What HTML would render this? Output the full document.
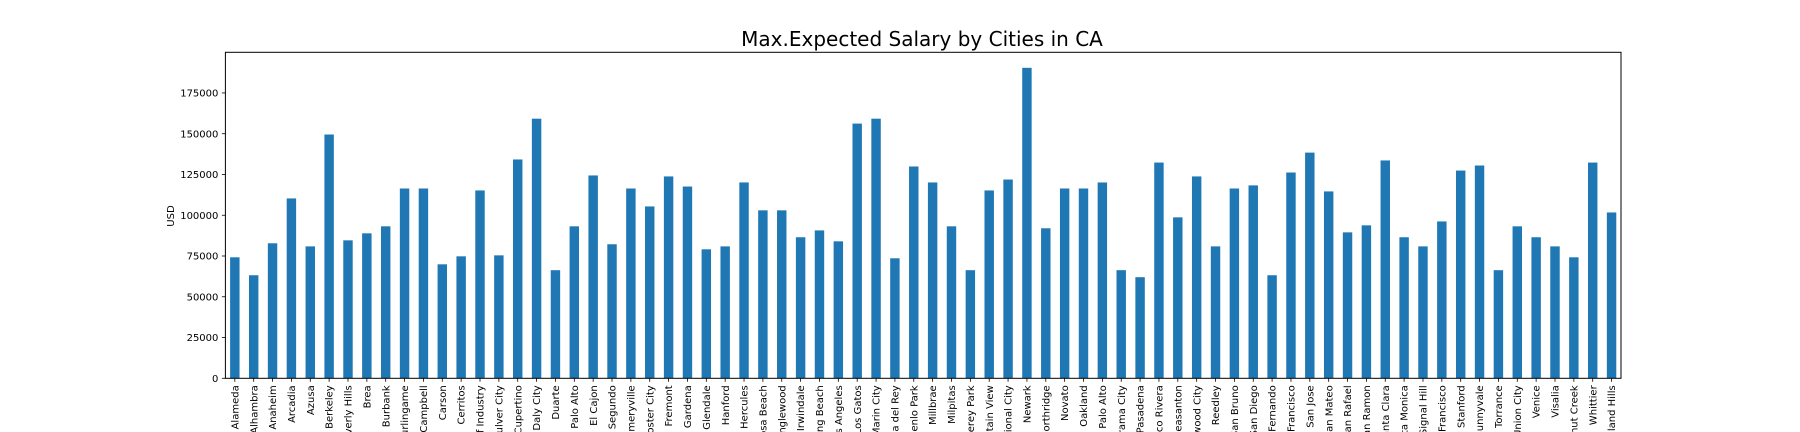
<!DOCTYPE html>
<html><head><meta charset="utf-8"><style>
html,body{margin:0;padding:0;background:#fff;width:1800px;height:432px;overflow:hidden;}
svg{display:block;font-family:"DejaVu Sans","Liberation Sans",sans-serif;overflow:hidden;}
</style></head><body>
<svg id="chart" width="1800" height="432" viewBox="0 0 1800 432">
<defs><clipPath id="frameclip"><rect x="0" y="0" width="1800" height="432"/></clipPath></defs>
<rect width="1800" height="432" fill="#fff"/>
<text x="922" y="46" font-size="20" text-anchor="middle" fill="#000">Max.Expected Salary by Cities in CA</text>
<text transform="translate(174,216) rotate(-90)" font-size="10" text-anchor="middle" fill="#000">USD</text>
<g id="bars"></g>
<g id="yaxis"></g>
<g id="xaxis" clip-path="url(#frameclip)"></g>
<rect x="225.4" y="52.3" width="1395.6" height="326" fill="none" stroke="#000" stroke-width="1"/>
</svg>
<script>
const categories = ["Alameda","Alhambra","Anaheim","Arcadia","Azusa","Berkeley","Beverly Hills","Brea","Burbank","Burlingame","Campbell","Carson","Cerritos","City of Industry","Culver City","Cupertino","Daly City","Duarte","East Palo Alto","El Cajon","El Segundo","Emeryville","Foster City","Fremont","Gardena","Glendale","Hanford","Hercules","Hermosa Beach","Inglewood","Irwindale","Long Beach","Los Angeles","Los Gatos","Marin City","Marina del Rey","Menlo Park","Millbrae","Milpitas","Monterey Park","Mountain View","National City","Newark","Northridge","Novato","Oakland","Palo Alto","Panorama City","Pasadena","Pico Rivera","Pleasanton","Redwood City","Reedley","San Bruno","San Diego","San Fernando","San Francisco","San Jose","San Mateo","San Rafael","San Ramon","Santa Clara","Santa Monica","Signal Hill","South San Francisco","Stanford","Sunnyvale","Torrance","Union City","Venice","Visalia","Walnut Creek","Whittier","Woodland Hills"];
const salaries = [74200,63200,82800,110300,80900,149500,84600,88900,93200,116400,116400,69900,74800,115200,75400,134200,159200,66300,93200,124400,82200,116400,105400,123800,117600,79100,80900,120100,103000,103000,86500,90700,84000,156200,159200,73600,129900,120100,93200,66300,115200,121900,190400,92000,116400,116400,120100,66300,62000,132300,98700,123800,80900,116400,118300,63200,126200,138400,114600,89500,93800,133600,86500,80900,96200,127400,130500,66300,93200,86500,80900,74200,132300,101700];
const yTicks = [0,25000,50000,75000,100000,125000,150000,175000];

const NS = "http://www.w3.org/2000/svg";
const L = 225.4, R = 1621, T = 52.3, B = 378.3;
const yMax = Math.max(...salaries) * 1.05;
function yScale(v){ return B - v / yMax * (B - T); }
const step = (R - L) / categories.length;
function xCenter(i){ return L + step * (i + 0.5); }
function mk(tag, attrs){ const e = document.createElementNS(NS, tag); for (const k in attrs) e.setAttribute(k, attrs[k]); return e; }

const bars = document.getElementById('bars');
salaries.forEach((v, i) => {
  const w = step * 0.5;
  const r = mk('rect', {x: xCenter(i) - w/2, y: yScale(v), width: w, height: B - yScale(v), fill: '#1f77b4'});
  
  
  bars.appendChild(r);
});

const ya = document.getElementById('yaxis');
yTicks.forEach(t => {
  const y = yScale(t);
  const ln = mk('line', {x1: L - 3.5, x2: L, y1: y, y2: y, stroke: '#000', 'stroke-width': 0.8});
  
  
  ya.appendChild(ln);
  const tx = mk('text', {x: L - 7, y: y + 3.6, 'font-size': 10, 'text-anchor': 'end', fill: '#000'});
  
  
  tx.textContent = String(t);
  ya.appendChild(tx);
});

const xa = document.getElementById('xaxis');
categories.forEach((c, i) => {
  const x = xCenter(i);
  const ln = mk('line', {x1: x, x2: x, y1: B, y2: B + 3.5, stroke: '#000', 'stroke-width': 0.8});
  
  
  xa.appendChild(ln);
  const tx = mk('text', {transform: 'translate(' + (x + 3.6) + ',' + (B + 7) + ') rotate(-90)', 'font-size': 10, 'text-anchor': 'end', fill: '#000'});
  
  
  tx.textContent = c;
  xa.appendChild(tx);
});
</script>
</body></html>
